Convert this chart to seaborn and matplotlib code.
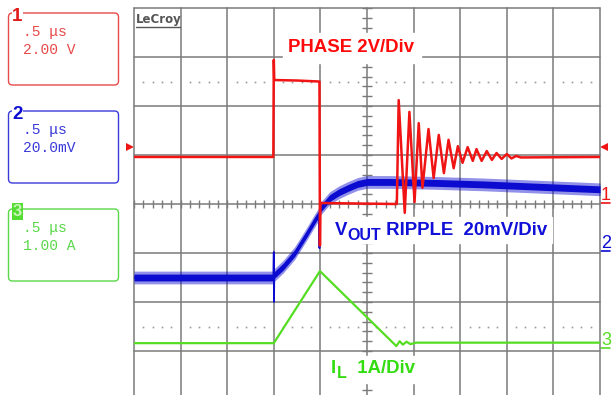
import numpy as np
import pandas as pd
import seaborn as sns
import matplotlib
matplotlib.use("Agg")
import matplotlib.pyplot as plt
from matplotlib.patches import FancyBboxPatch, Rectangle
from matplotlib.collections import LineCollection

# ---------------- data (in screen divisions; x: 0..10, y: -4..4) ----------------
phase_x = [0.0, 2.99, 3.0, 3.01, 3.5, 3.97, 3.98, 3.99, 4.0, 5.6, 5.64, 5.68, 5.81, 5.91,
           6.02, 6.11, 6.19, 6.32, 6.43, 6.54, 6.65, 6.75, 6.86, 6.95, 7.05, 7.16, 7.27,
           7.35, 7.46, 7.57, 7.68, 7.78, 7.89, 8.0, 8.1, 8.2, 8.3, 10.0]
phase_y = [0.96, 0.96, 2.94, 2.53, 2.52, 2.5, 2.5, -0.85, 0.02, 0.0, 0.0, 2.12, -0.18, 1.88,
           0.04, 1.65, 0.33, 1.53, 0.53, 1.41, 0.63, 1.31, 0.73, 1.18, 0.84, 1.16, 0.88,
           1.12, 0.88, 1.08, 0.9, 1.04, 0.92, 1.02, 0.93, 0.98, 0.95, 0.96]

vout_x = [0.0, 2.99, 3.0, 3.005, 3.01, 3.2, 3.45, 3.7, 3.9, 3.97, 3.98, 3.99, 4.0, 4.2,
          4.4, 4.6, 4.8, 5.0, 5.5, 6.5, 7.5, 8.5, 10.0]
vout_y = [-1.5, -1.5, -0.98, -2.0, -1.45, -1.28, -1.0, -0.62, -0.3, -0.2, -0.9, 0.0, -0.1,
          0.12, 0.24, 0.33, 0.41, 0.45, 0.45, 0.43, 0.4, 0.36, 0.3]

il_x = [0.0, 3.0, 3.99, 5.63, 5.7, 5.77, 5.85, 5.93, 6.05, 10.0]
il_y = [-2.84, -2.84, -1.37, -2.9, -2.8, -2.87, -2.81, -2.86, -2.83, -2.83]

channels = ["1", "2", "3"]
timebase = [".5 \u03bcs", ".5 \u03bcs", ".5 \u03bcs"]
scales = ["2.00 V", "20.0mV", "1.00 A"]

RED, BLUE, GREEN = "#f01414", "#0c0cd0", "#55dd22"
TXT_RED, TXT_BLUE, TXT_GREEN = "#ff0a0a", "#1010d8", "#33dd11"
BOX_COL = ["#e84a4a", "#3a3ad8", "#5ad84a"]
GRID = "#7a7a7a"

sns.set_theme(style="white")
plt.rcParams["font.family"] = ["Liberation Sans", "DejaVu Sans"]

W, H = 613, 395
fig = plt.figure(figsize=(W / 100, H / 100), dpi=100)
fig.patch.set_facecolor("white")

# overlay in pixel coordinates for side panels
ov = fig.add_axes([0, 0, 1, 1], zorder=0)
ov.set_xlim(0, W)
ov.set_ylim(H, 0)
ov.axis("off")

# main scope screen
ax = fig.add_axes([134 / W, -5 / H, 466 / W, 392 / H], zorder=1)
ax.set_xlim(0, 10)
ax.set_ylim(-4, 4)
ax.axis("off")
ax.patch.set_alpha(0)

# graticule
for i in range(11):
    ax.axvline(i, color=GRID, lw=1.1, zorder=1, clip_on=False)
for j in range(-4, 5):
    ax.axhline(j, color=GRID, lw=1.1, zorder=1, clip_on=False)
segs = []
for k in np.arange(0, 10.001, 0.2):
    segs.append([(k, -0.09), (k, 0.09)])
for k in np.arange(-4, 4.001, 0.2):
    segs.append([(4.9, k), (5.1, k)])
ax.add_collection(LineCollection(segs, colors=GRID, linewidths=1.0, zorder=1))
dots = np.array([k * 0.2 for k in range(51) if k % 5 != 0])
for yy in (2.5, -2.5):
    ax.plot(dots, np.full_like(dots, yy), ls="none", marker="s", ms=1.2,
            color="#9a9a9a", mew=0, zorder=1)

# traces
df_phase = pd.DataFrame({"x": phase_x, "y": phase_y})
df_vout = pd.DataFrame({"x": vout_x, "y": vout_y})
df_il = pd.DataFrame({"x": il_x, "y": il_y})

vy = np.array(vout_y)
ax.fill_between(vout_x, vy - 0.13, vy + 0.13, color=BLUE, alpha=0.45, lw=0, zorder=3)
ax.fill_between(vout_x, vy - 0.07, vy + 0.07, color=BLUE, lw=0, zorder=3)
sns.lineplot(data=df_vout, x="x", y="y", sort=False, estimator=None, color=BLUE,
             lw=1.3, ax=ax, zorder=3)
sns.lineplot(data=df_il, x="x", y="y", sort=False, estimator=None, color=GREEN,
             lw=1.6, ax=ax, zorder=4)
sns.lineplot(data=df_phase, x="x", y="y", sort=False, estimator=None, color=RED,
             lw=1.8, ax=ax, zorder=5)
ax.set_xlim(0, 10)
ax.set_ylim(-4, 4)
ax.axis("off")

# ---------------- annotations (pixel overlay on top) ----------------
top = fig.add_axes([0, 0, 1, 1], zorder=2)
top.set_xlim(0, W)
top.set_ylim(H, 0)
top.axis("off")
top.patch.set_alpha(0)

bold = dict(fontweight="bold", fontsize=13.4)

# PHASE label
top.add_patch(Rectangle((283, 33), 138, 30, color="white", zorder=5))
top.text(288, 52, "PHASE 2V/Div", color=TXT_RED, va="baseline", ha="left", zorder=6, **bold)

# VOUT label
top.add_patch(Rectangle((330, 217), 222, 26, color="white", zorder=5))
t = top.text(335, 235, "V", color=TXT_BLUE, va="baseline", ha="left", zorder=6, **bold)
t2 = top.annotate("OUT", xy=(1, 0), xycoords=t, xytext=(0.3, -3.0),
                  textcoords="offset points", color=TXT_BLUE, va="bottom", ha="left",
                  fontweight="bold", fontsize=11.5, zorder=6)
top.annotate(" RIPPLE  20mV/Div", xy=(1, 0), xycoords=t2, xytext=(0, 3.0),
             textcoords="offset points", color=TXT_BLUE, va="bottom", ha="left",
             zorder=6, **bold)

# IL label
top.add_patch(Rectangle((327, 356), 92, 27, color="white", zorder=5))
t = top.text(331, 373, "I", color=TXT_GREEN, va="baseline", ha="left", zorder=6, **bold)
t2 = top.annotate("L", xy=(1, 0), xycoords=t, xytext=(0.8, -3.0),
                  textcoords="offset points", color=TXT_GREEN, va="bottom", ha="left",
                  fontweight="bold", fontsize=11.5, zorder=6)
top.annotate("  1A/Div", xy=(1, 0), xycoords=t2, xytext=(0, 3.0),
             textcoords="offset points", color=TXT_GREEN, va="bottom", ha="left",
             zorder=6, **bold)

# LeCroy logo
top.text(136, 23, "LeCroy", color="#555555", fontsize=8.5, fontweight="bold",
         family=["DejaVu Sans"], va="baseline", ha="left", zorder=6)
top.plot([136, 180], [26.5, 26.5], color="#555555", lw=1.0, zorder=6)

# channel boxes on the left
box_tops = [13, 111, 209]
for i in range(3):
    y0 = box_tops[i]
    ov.add_patch(FancyBboxPatch((8.5, y0), 110, 72,
                                boxstyle="round,pad=0,rounding_size=4",
                                fill=False, ec=BOX_COL[i], lw=1.0))
    if i < 2:
        ov.text(12, y0 + 8, channels[i], color="#e01818" if i == 0 else BLUE,
                fontsize=13.5, fontweight="bold", va="baseline", ha="left",
                bbox=dict(facecolor="white", edgecolor="none", pad=0.3))
    else:
        ov.text(13, y0 + 7, channels[i], color="#c8f5b8", fontsize=12,
                fontweight="bold", va="baseline", ha="left",
                bbox=dict(facecolor="#55dd33", edgecolor="none", pad=0.8))
    ov.text(23, y0 + 23, timebase[i], color=BOX_COL[i], fontsize=10.5,
            family=["Liberation Mono", "DejaVu Sans Mono"], va="baseline", ha="left")
    ov.text(23, y0 + 41, scales[i], color=BOX_COL[i], fontsize=10.5,
            family=["Liberation Mono", "DejaVu Sans Mono"], va="baseline", ha="left")

# right-side channel markers
marks = [("1", RED, 200), ("2", BLUE, 248), ("3", GREEN, 345)]
for lab, col, yb in marks:
    ov.text(601, yb, lab, color=col, fontsize=13, va="baseline", ha="left")
    ov.plot([601, 610], [yb + 2.5, yb + 2.5], color=col, lw=1.2)

# trigger level markers
ov.plot([129.5], [147], marker=">", color=RED, ms=6, mew=0)
ov.plot([604], [147], marker="<", color=RED, ms=6, mew=0)

fig.savefig("out.png", dpi=100, facecolor="white")
